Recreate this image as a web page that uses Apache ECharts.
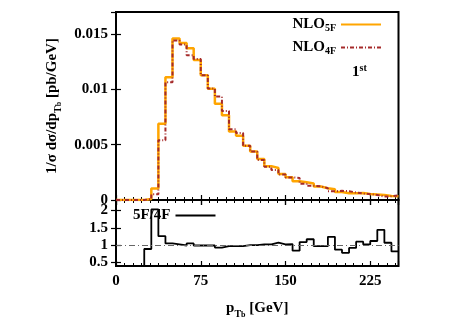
<!DOCTYPE html>
<html>
<head>
<meta charset="utf-8">
<script src="https://cdn.jsdelivr.net/npm/echarts@6/dist/echarts.min.js"></script>
<style>html,body{margin:0;padding:0;background:#fff}#c{width:457px;height:323px}</style>
</head>
<body>
<div id="c"></div>
<script>
// bin starts (GeV), bin width 6.25, last edge 250
const binStarts = [0,6.25,12.5,18.75,25,31.25,37.5,43.75,50,56.25,62.5,68.75,75,81.25,87.5,93.75,100,106.25,112.5,118.75,125,131.25,137.5,143.75,150,156.25,162.5,168.75,175,181.25,187.5,193.75,200,206.25,212.5,218.75,225,231.25,237.5,243.75];
const lastEdge = 250;
const nlo5f = [0,0,0,0,0.00008,0.00105,0.0069,0.0111,0.0146,0.0142,0.01373,0.01265,0.01128,0.01005,0.0087,0.00766,0.0062,0.0058,0.0049,0.00438,0.0037,0.00306,0.0029,0.00235,0.00205,0.0017,0.0016,0.0015,0.00122,0.00106,0.00097,0.00072,0.00062,0.00062,0.00064,0.00054,0.0005,0.00045,0.00036,0.00035];
const nlo4f = [0,0,0,0,0.00009,0.00052,0.0054,0.01065,0.01443,0.01405,0.0131,0.01275,0.01128,0.01008,0.00935,0.00805,0.0064,0.00605,0.0049,0.00438,0.00362,0.003,0.00272,0.0023,0.00204,0.002,0.00147,0.00128,0.00125,0.00107,0.00079,0.00083,0.0008,0.00068,0.00058,0.00053,0.00045,0.00031,0.00034,0.00043];
const ratio = [0,0,0,0,0.89,2.03,1.26,1.05,1.02,0.99,1.05,0.99,0.99,0.99,0.93,0.97,0.97,0.97,1.0,1.0,1.02,1.02,1.07,1.02,1.03,0.84,1.09,1.17,0.97,0.97,1.24,0.87,0.78,0.92,1.1,1.02,1.12,1.44,1.07,0.82];
const xTicks = [0, 75, 150, 225];
const mainYTicks = [0, 0.005, 0.01, 0.015];
const ratioYTicks = [0.5, 1, 1.5, 2];
const refLine = 1;

function steps(vals){
  const d = binStarts.map((x,i)=>[x, vals[i]]);
  d.push([lastEdge, vals[vals.length-1]]);
  return d;
}

const FONT = 'Liberation Serif';
const lab = {fontFamily: FONT, fontWeight: 'bold', fontSize: 15, color: '#000'};
const rich = {
  a: {fontFamily: FONT, fontWeight: 'bold', fontSize: 15, color: '#000'},
  s: {fontFamily: FONT, fontWeight: 'bold', fontSize: 10, color: '#000', verticalAlign: 'bottom', padding: [7,0,0,0]},
  ss: {fontFamily: FONT, fontWeight: 'bold', fontSize: 8, color: '#000', padding: [14,0,0,0]},
  up: {fontFamily: FONT, fontWeight: 'bold', fontSize: 10, color: '#000', padding: [0,0,8,0]}
};

function xAx(grid, pos, showLabel){
  return {
    type: 'value', gridIndex: grid, position: pos, min: 0, max: lastEdge, interval: 75,
    axisLine: {show: false},
    axisTick: {show: true, inside: true, length: 5, lineStyle: {color: '#000', width: 1.2}},
    minorTick: {show: true, splitNumber: 10, length: 3, lineStyle: {color: '#000', width: 1}},
    splitLine: {show: false}, minorSplitLine: {show: false},
    axisLabel: Object.assign({show: showLabel, margin: 8, showMaxLabel: false}, lab)
  };
}

const option = {
  animation: false,
  backgroundColor: '#fff',
  grid: [
    {left: 116, top: 12, width: 282.5, height: 188, show: true, borderColor: '#000', borderWidth: 2, backgroundColor: 'transparent'},
    {left: 116, top: 200, width: 282.5, height: 66, show: true, borderColor: '#000', borderWidth: 2, backgroundColor: 'transparent'}
  ],
  xAxis: [
    xAx(0, 'bottom', false),
    xAx(0, 'top', false),
    Object.assign(xAx(1, 'bottom', true), {
      name: '{a|p}{s|T}{ss|b}{a| [GeV]}', nameLocation: 'middle', nameGap: 31,
      nameTextStyle: {rich: rich}
    }),
    xAx(1, 'top', false)
  ],
  yAxis: [
    {type: 'value', gridIndex: 0, position: 'left', min: 0, max: 0.017, interval: 0.005,
     axisLine: {show: false}, splitLine: {show: false},
     axisTick: {show: true, inside: true, length: 5, lineStyle: {color: '#000', width: 1.2}},
     axisLabel: Object.assign({margin: 8, showMaxLabel: false}, lab),
     name: '{a|1/σ dσ/dp}{s|T}{ss|b}{a| [pb/GeV]}', nameLocation: 'middle', nameRotate: 90, nameGap: 47,
     nameTextStyle: {rich: rich}
    },
    {type: 'value', gridIndex: 0, position: 'right', min: 0, max: 0.017, interval: 0.005,
     axisLine: {show: false}, splitLine: {show: false},
     axisTick: {show: true, inside: true, length: 5, lineStyle: {color: '#000', width: 1.2}},
     axisLabel: {show: false}},
    {type: 'value', gridIndex: 1, position: 'left', min: 0.4, max: 2.3,
     axisLine: {show: false}, splitLine: {show: false},
     axisTick: {show: true, inside: true, length: 5, customValues: ratioYTicks, lineStyle: {color: '#000', width: 1.2}},
     axisLabel: Object.assign({margin: 8, customValues: ratioYTicks}, lab)},
    {type: 'value', gridIndex: 1, position: 'right', min: 0.4, max: 2.3,
     axisLine: {show: false}, splitLine: {show: false},
     axisTick: {show: true, inside: true, length: 5, customValues: ratioYTicks, lineStyle: {color: '#000', width: 1.2}},
     axisLabel: {show: false, customValues: ratioYTicks}}
  ],
  legend: [
    {data: ['NLO5F', 'NLO4F'], orient: 'vertical', right: 75, top: 17, align: 'right',
     itemWidth: 40, itemHeight: 14, itemGap: 7, padding: 0,
     itemStyle: {opacity: 0},
     formatter: function(n){ return n === 'NLO5F' ? '{a|NLO}{s|5F}' : '{a|NLO}{s|4F}'; },
     textStyle: {rich: rich}},
    {data: ['5F/4F'], left: 133, top: 208, align: 'right', itemWidth: 40, itemHeight: 14, padding: 0,
     itemStyle: {opacity: 0},
     formatter: function(){ return '{a|5F/4F}'; }, textStyle: {rich: rich}}
  ],
  graphic: [
    {type: 'text', left: 352, top: 63, style: {text: '{a|1}{up|st}', rich: rich}}
  ],
  series: [
    {name: 'NLO5F', type: 'line', step: 'end', xAxisIndex: 0, yAxisIndex: 0, symbol: 'none',
     data: steps(nlo5f), lineStyle: {color: '#ffa500', width: 2.5}, itemStyle: {color: '#ffa500'}},
    {name: 'NLO4F', type: 'line', step: 'end', xAxisIndex: 0, yAxisIndex: 0, symbol: 'none',
     data: steps(nlo4f), lineStyle: {color: '#a52a2a', width: 2, type: [4,2,1,2]}, itemStyle: {color: '#a52a2a'}},
    {name: '5F/4F', type: 'line', step: 'end', xAxisIndex: 2, yAxisIndex: 2, symbol: 'none',
     data: steps(ratio), lineStyle: {color: '#000', width: 1.8}, itemStyle: {color: '#000'},
     markLine: {silent: true, symbol: 'none', label: {show: false},
       lineStyle: {color: '#666', width: 1, type: [6,3,1,3]}, data: [{yAxis: refLine}]}}
  ]
};
const chart = echarts.init(document.getElementById('c'), null, {renderer: 'canvas'});
chart.setOption(option);
</script>
</body>
</html>
